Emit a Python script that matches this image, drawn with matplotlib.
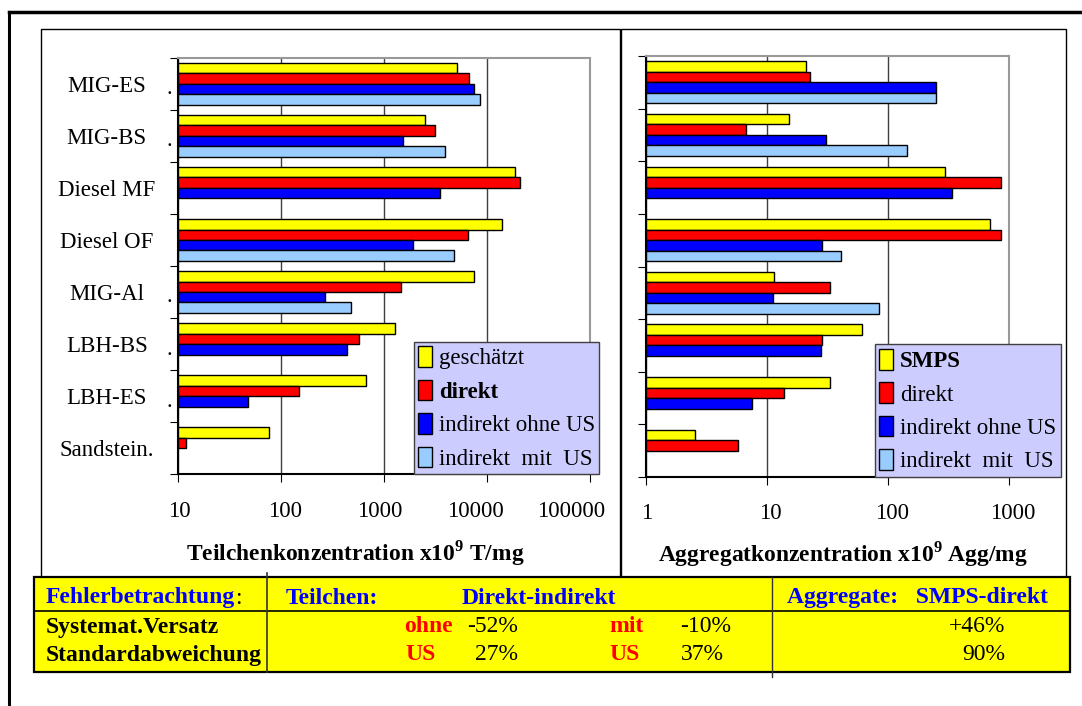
import numpy as np
import matplotlib
matplotlib.use('Agg')
import matplotlib.pyplot as plt
from matplotlib.patches import Patch, Rectangle
from matplotlib.lines import Line2D
from matplotlib import transforms

plt.rcParams['font.family'] = ['Liberation Serif', 'DejaVu Serif']
plt.rcParams['mathtext.fontset'] = 'custom'
plt.rcParams['mathtext.rm'] = 'Liberation Serif'
plt.rcParams['mathtext.bf'] = 'Liberation Serif:bold'

# --- data -------------------------------------------------------------
categories = ['MIG-ES', 'MIG-BS', 'Diesel MF', 'Diesel OF', 'MIG-Al',
              'LBH-BS', 'LBH-ES', 'Sandstein.']
label_dots = ['.', '.', '', '', '.', '.', '.', '']

# Teilchenkonzentration x10^9 T/mg
t_geschaetzt = [5140, 2520, 18800, 13900, 7550, 1290, 673, 77]
t_direkt = [6760, 3120, 20800, 6580, 1480, 572, 151, 12]
t_ohne_us = [7550, 1530, 3540, 1920, 271, 435, 48, np.nan]
t_mit_us = [8570, 3950, np.nan, 4830, 481, np.nan, np.nan, np.nan]

# Aggregatkonzentration x10^9 Agg/mg
a_smps = [20.9, 15.1, 299, 700, 11.5, 61.5, 33.5, 2.56]
a_direkt = [22.9, 6.7, 859, 859, 33.5, 28.7, 13.9, 5.8]
a_ohne_us = [252, 30.6, 337, 28.7, 11.3, 28.2, 7.6, np.nan]
a_mit_us = [250, 144, np.nan, 41, 85, np.nan, np.nan, np.nan]

t_ticks = [10, 100, 1000, 10000, 100000]
a_ticks = [1, 10, 100, 1000]
# the old chart spaced its tick labels a little unevenly (pixel shifts)
t_tick_shift = [2, 4, -4, -11, -19]
a_tick_shift = [1, 3, 4, 4]

t_legend = ['geschätzt', 'direkt', 'indirekt ohne US', 'indirekt  mit  US']
a_legend = ['SMPS', 'direkt', 'indirekt ohne US', 'indirekt  mit  US']
t_bold = 1
a_bold = 0

t_xlabel = r'Teilchenkonzentration x10$^{\mathbf{9}}$ T/mg'
a_xlabel = r'Aggregatkonzentration x10$^{\mathbf{9}}$ Agg/mg'

# table: (text, colour, bold)
tab_header = [('Teilchen:', 'blue', True), ('Direkt-indirekt', 'blue', True),
              ('Aggregate:   SMPS-direkt', 'blue', True)]
tab_row1 = [('Systemat.Versatz', 'black', True), ('ohne', 'red', True),
            ('-52%', 'black', False), ('mit', 'red', True),
            ('-10%', 'black', False), ('+46%', 'black', False)]
tab_row2 = [('Standardabweichung', 'black', True), ('US', 'red', True),
            ('27%', 'black', False), ('US', 'red', True),
            ('37%', 'black', False), ('90%', 'black', False)]

colors = ['#FFFF00', '#FF0000', '#0000FF', '#99CCFF']

# --- figure -----------------------------------------------------------
W, H = 1082, 706
fig = plt.figure(figsize=(W / 100, H / 100), dpi=100)


def fx(x):
    return x / W


def fy(y):
    return 1 - y / H


def draw(ax, series, ticks, shifts, legend_labels, bold_idx, leg_xy, labels):
    y = np.arange(len(categories))
    base = ticks[0]
    for k, (vals, c) in enumerate(zip(series, colors)):
        v = np.array(vals, dtype=float)
        ax.barh(y - 0.3 + 0.2 * k, v - base, left=base, height=0.2,
                color=c, edgecolor='black', linewidth=1.0, zorder=3)
    ax.set_xscale('log')
    ax.set_xlim(ticks[0], ticks[-1])
    ax.set_ylim(len(categories) - 0.5, -0.5)
    ax.set_xticks(ticks)
    ax.set_xticklabels([str(t) for t in ticks])
    ax.xaxis.set_minor_locator(matplotlib.ticker.NullLocator())
    ax.tick_params(axis='x', length=6, pad=13, labelsize=16.5)
    for lab, dx in zip(ax.get_xticklabels(), shifts):
        lab.set_transform(lab.get_transform() +
                          transforms.ScaledTranslation(dx / 100, 0, fig.dpi_scale_trans))
    ax.set_yticks(np.arange(len(categories) + 1) - 0.5)
    ax.set_yticklabels([])
    ax.set_yticks(y, minor=True)
    if labels:
        ax.set_yticklabels(categories, minor=True, ha='center', fontsize=16.5)
    ax.tick_params(axis='y', which='major', length=6)
    ax.tick_params(axis='y', which='minor', length=0, pad=51)
    ax.grid(axis='x', color='#404040', lw=1, zorder=0)
    for s in ['top', 'right']:
        ax.spines[s].set_color('#999999')
        ax.spines[s].set_linewidth(1.5)
    for s in ['left', 'bottom']:
        ax.spines[s].set_linewidth(1.5)
    handles = [Patch(facecolor=c, edgecolor='black') for c in colors]
    leg = ax.legend(handles, legend_labels, loc='lower left',
                    bbox_to_anchor=(fx(leg_xy[0]), fy(leg_xy[1])),
                    bbox_transform=fig.transFigure, fancybox=False,
                    facecolor='#CCCCFF', edgecolor='#404040', framealpha=1,
                    fontsize=16.5, handlelength=0.6, handleheight=1.0,
                    handletextpad=0.3, labelspacing=0.45, borderpad=0.2,
                    borderaxespad=0)
    leg.get_frame().set_linewidth(1.0)
    leg.get_texts()[bold_idx].set_fontweight('bold')
    leg.set_zorder(10)


ax1 = fig.add_axes([fx(177.6), fy(474.3), fx(590) - fx(177.6), fy(57.7) - fy(474.3)])
draw(ax1, [t_geschaetzt, t_direkt, t_ohne_us, t_mit_us], t_ticks, t_tick_shift,
     t_legend, t_bold, (413.5, 474.3), True)
ax2 = fig.add_axes([fx(646), fy(477), fx(1008.7) - fx(646), fy(56) - fy(477)])
draw(ax2, [a_smps, a_direkt, a_ohne_us, a_mit_us], a_ticks, a_tick_shift,
     a_legend, a_bold, (874.7, 477), False)

# little dots next to the category labels
trans = transforms.blended_transform_factory(ax1.transAxes, ax1.transData)
for i, d in enumerate(label_dots):
    ax1.text(-0.02, i + 0.2, d, transform=trans, ha='center', va='baseline',
             fontsize=16, clip_on=False)

fig.text(fx(355), fy(553), t_xlabel, ha='center', va='center',
         fontsize=16.9, fontweight='bold')
fig.text(fx(843), fy(554), a_xlabel, ha='center', va='center',
         fontsize=16.9, fontweight='bold')

# chart boxes and page frame
fig.add_artist(Rectangle((fx(40.7), fy(577)), fx(620) - fx(40.7), fy(29) - fy(577),
                         transform=fig.transFigure, fill=False, ec='black', lw=1))
fig.add_artist(Rectangle((fx(620.7), fy(577)), fx(1065.7) - fx(620.7), fy(29.3) - fy(577),
                         transform=fig.transFigure, fill=False, ec='black', lw=1))
fig.add_artist(Line2D([fx(9), fx(W)], [fy(12), fy(12)], transform=fig.transFigure,
                      color='black', lw=2.5))
fig.add_artist(Line2D([fx(9.3), fx(9.3)], [fy(12), fy(H)], transform=fig.transFigure,
                      color='black', lw=2.2))

# error table
fig.add_artist(Rectangle((fx(34), fy(672)), fx(1070) - fx(34), fy(576.7) - fy(672),
                         transform=fig.transFigure, fc='#FFFF00', ec='black', lw=1.6,
                         zorder=2))
fig.add_artist(Line2D([fx(34), fx(1070)], [fy(610.7), fy(610.7)],
                      transform=fig.transFigure, color='black', lw=1.2, zorder=3))
fig.add_artist(Line2D([fx(267), fx(267)], [fy(572.7), fy(672)],
                      transform=fig.transFigure, color='#333333', lw=1.2, zorder=3))
fig.add_artist(Line2D([fx(772), fx(772)], [fy(576.7), fy(677)],
                      transform=fig.transFigure, color='#333333', lw=1.0, zorder=3))

tfs = 17
t0 = fig.text(fx(45.7), fy(598), 'Fehlerbetrachtung', ha='left', va='center',
              fontsize=tfs, color='blue', fontweight='bold', zorder=4)
fig.texts.append(matplotlib.text.Annotation(
    ':', xy=(1, 0.5), xycoords=t0, ha='left', va='center', fontsize=tfs,
    color='black', zorder=4))
fig.texts[-1].set_figure(fig)

header_x = [286, 462, 787]
row_x = [45.7, 404, 466.7, 609.7, 680.6, 949]
row2_x = [45.7, 405, 475, 609.7, 680.6, 962]
for row, xs, yy in [(tab_header, header_x, 598), (tab_row1, row_x, 627),
                    (tab_row2, row2_x, 655)]:
    for (txt, col, b), x in zip(row, xs):
        fig.text(fx(x), fy(yy), txt, ha='left', va='center', fontsize=tfs,
                 color=col, fontweight='bold' if b else 'normal', zorder=4)

fig.savefig('out.png', dpi=100)
